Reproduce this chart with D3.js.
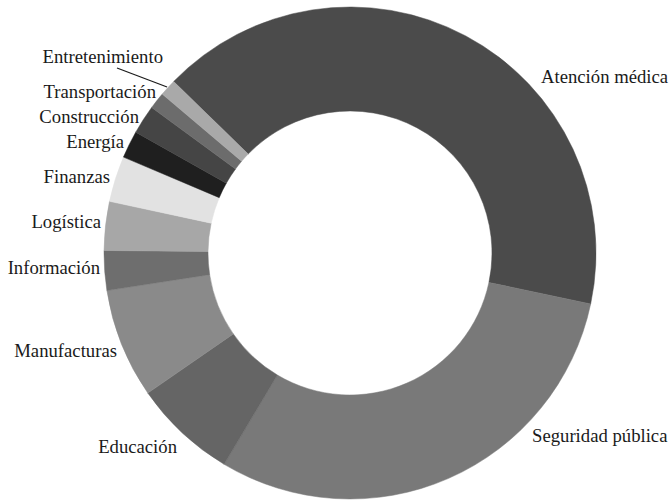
<!DOCTYPE html>
<html>
<head>
<meta charset="utf-8">
<script src="https://cdn.jsdelivr.net/npm/d3@7"></script>
<style>
  html, body { margin: 0; padding: 0; background: #ffffff; }
  svg { display: block; }
</style>
</head>
<body>
<svg id="chart" width="672" height="500"></svg>
<script>
// Data (share of total, %), clockwise starting with Atención médica
const categories = ["Atención médica", "Seguridad pública", "Educación", "Manufacturas", "Información",
  "Logística", "Finanzas", "Energía", "Construcción", "Transportación", "Entretenimiento"];
const values = [41.0, 30.2, 6.8, 7.2, 2.6, 3.2, 3.0, 1.8, 1.9, 1.1, 1.1];
const colors = ["#4b4b4b", "#797979", "#656565", "#8a8a8a", "#6e6e6e",
  "#a7a7a7", "#e2e2e2", "#1f1f1f", "#454545", "#6c6c6c", "#a9a9a9"];

// Label layout (annotation placement, not data)
const labelPos = [
  {x: 541, y: 83, anchor: "start"},
  {x: 532, y: 442, anchor: "start"},
  {x: 177, y: 453, anchor: "end"},
  {x: 117, y: 357, anchor: "end"},
  {x: 100, y: 274, anchor: "end"},
  {x: 101, y: 228, anchor: "end"},
  {x: 110, y: 183, anchor: "end"},
  {x: 124, y: 148, anchor: "end"},
  {x: 139, y: 123, anchor: "end"},
  {x: 156, y: 98, anchor: "end"},
  {x: 163, y: 63, anchor: "end"}
];

const svg = d3.select("#chart");
const cx = 350, cy = 253, outerR = 246, innerR = 142;
const startDeg = -45.8;

const data = categories.map((c, i) => ({name: c, value: values[i], color: colors[i], label: labelPos[i]}));

const pie = d3.pie().sort(null).value(d => d.value)
  .startAngle(startDeg * Math.PI / 180)
  .endAngle((startDeg + 360) * Math.PI / 180);
const arc = d3.arc().innerRadius(innerR).outerRadius(outerR);
const arcs = pie(data);

const g = svg.append("g").attr("transform", `translate(${cx},${cy})`);
g.selectAll("path.slice").data(arcs).join("path")
  .attr("class", "slice")
  .attr("d", arc)
  .attr("fill", d => d.data.color)
  .attr("stroke", d => d.data.color)
  .attr("stroke-width", 0.5);

// labels
svg.selectAll("text.lbl").data(data).join("text")
  .attr("class", "lbl")
  .attr("x", d => d.label.x)
  .attr("y", d => d.label.y)
  .attr("text-anchor", d => d.label.anchor)
  .attr("font-family", "'Liberation Serif', 'DejaVu Serif', serif")
  .attr("font-size", 18.7)
  .attr("fill", "#1a1a1a")
  .text(d => d.name);

// leader line for Entretenimiento, ending at its outer arc edge
const ent = arcs[arcs.length - 1];
const entMid = (ent.startAngle + ent.endAngle) / 2;
const endX = cx + (outerR + 1) * Math.sin(entMid);
const endY = cy - (outerR + 1) * Math.cos(entMid);
svg.append("line")
  .attr("x1", 117).attr("y1", 68)
  .attr("x2", endX).attr("y2", endY)
  .attr("stroke", "#1a1a1a").attr("stroke-width", 1.2);
</script>
</body>
</html>
